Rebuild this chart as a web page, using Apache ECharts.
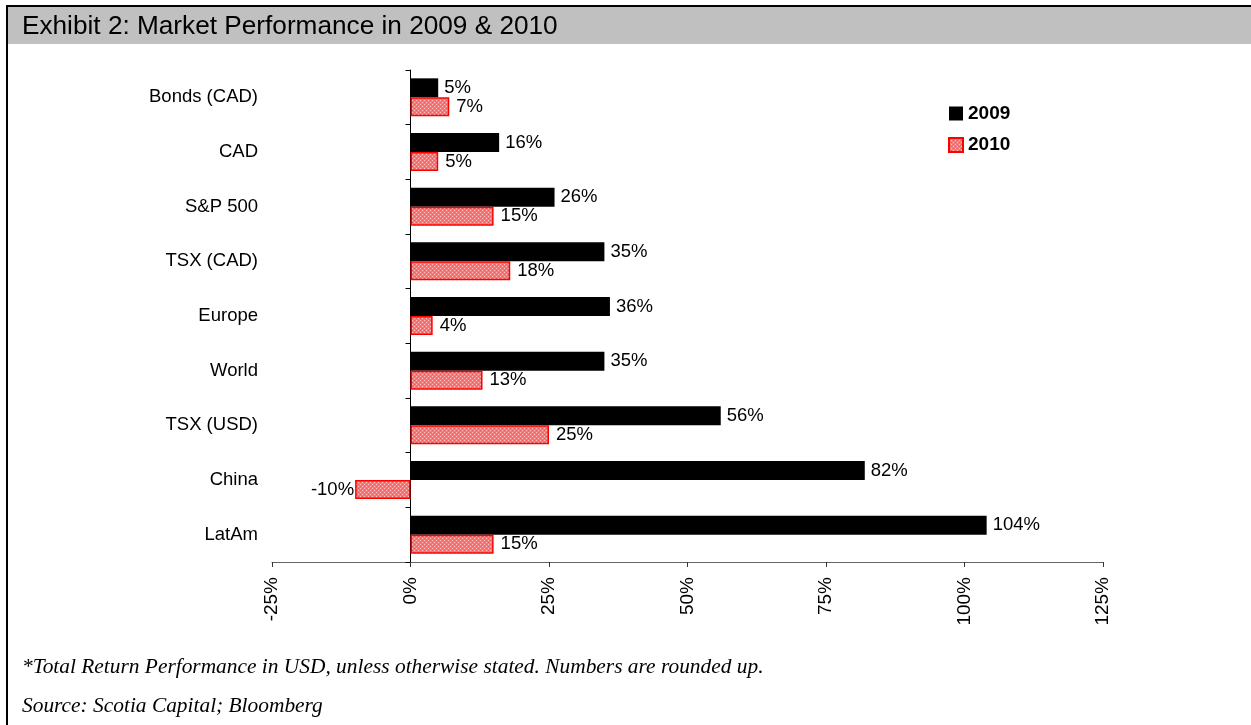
<!DOCTYPE html>
<html>
<head>
<meta charset="utf-8">
<script src="https://cdn.jsdelivr.net/npm/echarts@6/dist/echarts.min.js"></script>
<style>
  html, body { margin: 0; padding: 0; background: #ffffff; }
  #chart { width: 1251px; height: 725px; }
</style>
</head>
<body>
<div id="chart"></div>
<script>
// Markets, listed top to bottom
const categories = ['Bonds (CAD)', 'CAD', 'S&P 500', 'TSX (CAD)', 'Europe', 'World', 'TSX (USD)', 'China', 'LatAm'];
// Total returns (%) by year
const returns2009 = [5, 16, 26, 35, 36, 35, 56, 82, 104];
const returns2010 = [7, 5, 15, 18, 4, 13, 25, -10, 15];
const seriesNames = ['2009', '2010'];
const axisMin = -25, axisMax = 125, axisStep = 25;

const titleText = 'Exhibit 2: Market Performance in 2009 & 2010';
const noteText = '*Total Return Performance in USD, unless otherwise stated. Numbers are rounded up.';
const sourceText = 'Source: Scotia Capital; Bloomberg';

// Fine red hatch used for the 2010 bars
function hatchPattern() {
  const c = document.createElement('canvas');
  c.width = 4; c.height = 4;
  const ctx = c.getContext('2d');
  ctx.fillStyle = '#f27a7a';
  ctx.fillRect(0, 0, 4, 4);
  ctx.fillStyle = '#fbc4c4';
  ctx.fillRect(0, 0, 1, 1);
  ctx.fillRect(2, 2, 1, 1);
  ctx.fillStyle = '#ee5c5c';
  ctx.fillRect(2, 0, 1, 1);
  ctx.fillRect(0, 2, 1, 1);
  return c;
}

const labelFont = { fontFamily: 'Liberation Sans, Arial, sans-serif', fontSize: 18.5, color: '#000' };

const chart = echarts.init(document.getElementById('chart'), null, { renderer: 'canvas' });

chart.setOption({
  animation: false,
  backgroundColor: '#ffffff',
  grid: { left: 272, right: 148, top: 70, bottom: 163, containLabel: false },
  legend: {
    orient: 'vertical',
    left: 943,
    top: 99,
    itemWidth: 14,
    itemHeight: 14,
    itemGap: 12.5,
    icon: 'rect',
    data: seriesNames,
    textStyle: { fontFamily: 'Liberation Sans, Arial, sans-serif', fontSize: 19, fontWeight: 'bold', color: '#000' }
  },
  xAxis: {
    type: 'value',
    min: axisMin,
    max: axisMax,
    interval: axisStep,
    axisLine: { show: true, lineStyle: { color: '#666', width: 1 } },
    axisTick: { show: true, length: 5, lineStyle: { color: '#333' } },
    splitLine: { show: false },
    axisLabel: {
      rotate: 90,
      margin: 15,
      formatter: '{value}%',
      fontFamily: 'Liberation Sans, Arial, sans-serif',
      fontSize: 19,
      color: '#000'
    }
  },
  yAxis: {
    type: 'category',
    data: categories,
    inverse: true,
    axisLine: { show: true, onZero: true, lineStyle: { color: '#000', width: 1 } },
    axisTick: { show: true, length: 5, inside: false, lineStyle: { color: '#000' } },
    axisLabel: {
      margin: 14,
      align: 'right',
      fontFamily: 'Liberation Sans, Arial, sans-serif',
      fontSize: 18.5,
      color: '#000'
    }
  },
  series: [
    {
      name: seriesNames[0],
      type: 'bar',
      data: returns2009,
      barGap: '0%',
      barCategoryGap: '30.5%',
      itemStyle: { color: '#000000' },
      label: Object.assign({ show: true, position: 'right', distance: 6, formatter: '{c}%' }, labelFont)
    },
    {
      name: seriesNames[1],
      type: 'bar',
      data: returns2010.map(v => v < 0
        ? { value: v, label: { position: 'left', distance: 1 } }
        : v),
      barGap: '0%',
      barCategoryGap: '30.5%',
      itemStyle: {
        color: { image: hatchPattern(), repeat: 'repeat' },
        borderColor: '#ff0000',
        borderWidth: 1.5
      },
      label: Object.assign({ show: true, position: 'right', distance: 7, formatter: '{c}%' }, labelFont)
    }
  ],
  graphic: [
    // heading band
    { type: 'rect', left: 7, top: 6, shape: { width: 1244, height: 38 }, style: { fill: '#c0c0c0' }, z: 0 },
    // frame lines: top and left
    { type: 'rect', left: 6, top: 5, shape: { width: 1245, height: 2 }, style: { fill: '#000' }, z: 1 },
    { type: 'rect', left: 6, top: 5, shape: { width: 2, height: 720 }, style: { fill: '#000' }, z: 1 },
    {
      type: 'text', left: 22, top: 14, z: 2,
      style: { text: titleText, fill: '#000', font: '26.2px "Liberation Sans", Arial, sans-serif' }
    },
    {
      type: 'text', left: 22, top: 657, z: 2,
      style: { text: noteText, fill: '#000', font: 'italic 21.4px "Liberation Serif", "Times New Roman", serif' }
    },
    {
      type: 'text', left: 22, top: 696, z: 2,
      style: { text: sourceText, fill: '#000', font: 'italic 21.4px "Liberation Serif", "Times New Roman", serif' }
    }
  ]
});
</script>
</body>
</html>
